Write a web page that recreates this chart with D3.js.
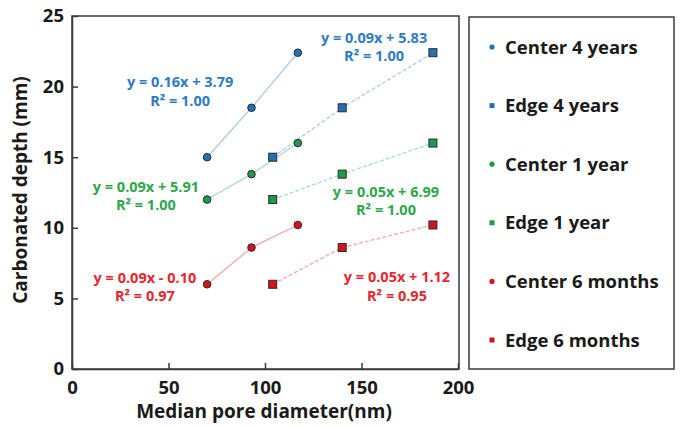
<!DOCTYPE html>
<html>
<head>
<meta charset="utf-8">
<script src="https://cdn.jsdelivr.net/npm/d3@7"></script>
<style>
  html, body { margin: 0; padding: 0; background: #fff; }
  svg { display: block; font-family: "Open Sans", Lato, sans-serif; font-weight: bold; }
</style>
</head>
<body>
<svg id="chart" width="686" height="427"></svg>
<script>
// Median pore diameter (nm) measured at the centre and at the edge of the samples
const xCenter = [70, 93, 117];
const xEdge = [104, 140, 187];

// Carbonated depth (mm) for each exposure time
const center4Years = [15.0, 18.5, 22.4];
const edge4Years = [15.0, 18.5, 22.4];
const center1Year = [12.0, 13.8, 16.0];
const edge1Year = [12.0, 13.8, 16.0];
const center6Months = [6.0, 8.6, 10.2];
const edge6Months = [6.0, 8.6, 10.2];

const seriesNames = ["Center 4 years", "Edge 4 years", "Center 1 year", "Edge 1 year", "Center 6 months", "Edge 6 months"];

// Trendline equations and fit quality
const equations = ["y = 0.16x + 3.79", "y = 0.09x + 5.83", "y = 0.09x + 5.91", "y = 0.05x + 6.99", "y = 0.09x - 0.10", "y = 0.05x + 1.12"];
const rSquared = ["1.00", "1.00", "1.00", "1.00", "0.97", "0.95"];

const xTicks = [0, 50, 100, 150, 200];
const yTicks = [0, 5, 10, 15, 20, 25];

const palette = {
  blue:  { mark: "#2270b8", line: "#a9cde8", text: "#2f7bc2" },
  green: { mark: "#1f9a48", line: "#a7dcc4", text: "#2ea64c" },
  red:   { mark: "#d4121c", line: "#f3a7aa", text: "#e8262c" }
};

const series = [
  { name: seriesNames[0], xs: xCenter, ys: center4Years, shape: "circle", col: palette.blue },
  { name: seriesNames[1], xs: xEdge,   ys: edge4Years,   shape: "square", col: palette.blue },
  { name: seriesNames[2], xs: xCenter, ys: center1Year,  shape: "circle", col: palette.green },
  { name: seriesNames[3], xs: xEdge,   ys: edge1Year,    shape: "square", col: palette.green },
  { name: seriesNames[4], xs: xCenter, ys: center6Months, shape: "circle", col: palette.red },
  { name: seriesNames[5], xs: xEdge,   ys: edge6Months,  shape: "square", col: palette.red }
];

// Where each trendline label sits, in data units (centre of the equation line)
const labelAt = [[56, 20.3], [156.5, 23.45], [38.3, 12.9], [162.7, 12.55], [37.8, 6.45], [168.4, 6.5]];

const svg = d3.select("#chart");
const plot = { left: 72, right: 458, top: 16, bottom: 369 };

const x = d3.scaleLinear().domain([0, 200]).range([plot.left, plot.right]);
const y = d3.scaleLinear().domain([0, 25]).range([plot.bottom, plot.top]);

// Plot frame
svg.append("rect")
  .attr("x", plot.left).attr("y", plot.top)
  .attr("width", plot.right - plot.left + 1).attr("height", plot.bottom - plot.top)
  .attr("fill", "none").attr("stroke", "#3a3a3a").attr("stroke-width", 1.5);

// Axes with inward ticks
const xAxis = svg.append("g").attr("transform", `translate(0,${plot.bottom})`)
  .call(d3.axisBottom(x).tickValues(xTicks).tickSizeInner(-6).tickSizeOuter(0).tickPadding(12));
const yAxis = svg.append("g").attr("transform", `translate(${plot.left},0)`)
  .call(d3.axisLeft(y).tickValues(yTicks).tickSizeInner(-6).tickSizeOuter(0).tickPadding(8));

[xAxis, yAxis].forEach(a => {
  a.select(".domain").attr("stroke", "#3a3a3a").attr("stroke-width", 1.5);
  a.selectAll(".tick line").attr("stroke", "#3a3a3a").attr("stroke-width", 1.5);
  a.selectAll(".tick text")
    .attr("fill", "#1a1a1a")
    .style("font-family", "'Open Sans', Lato, sans-serif")
    .style("font-weight", "bold")
    .style("font-size", "18.5px");
});

// Axis titles
svg.append("text")
  .attr("x", 264).attr("y", 418)
  .attr("text-anchor", "middle")
  .attr("fill", "#1a1a1a").style("font-size", "19px")
  .text("Median pore diameter(nm)");

svg.append("text")
  .attr("transform", "translate(27,190) rotate(-90)")
  .attr("text-anchor", "middle")
  .attr("fill", "#1a1a1a").style("font-size", "19px")
  .text("Carbonated depth (mm)");

// Connecting lines: solid for centre, dashed for edge
const line = d3.line().x(d => x(d[0])).y(d => y(d[1]));
series.forEach(s => {
  const pts = s.xs.map((v, i) => [v, s.ys[i]]);
  svg.append("path")
    .attr("d", line(pts))
    .attr("fill", "none")
    .attr("stroke", s.col.line)
    .attr("stroke-width", 1.3)
    .attr("stroke-dasharray", s.shape === "square" ? "4,2" : null);
});

// Markers
series.forEach(s => {
  const pts = s.xs.map((v, i) => [v, s.ys[i]]);
  const g = svg.append("g");
  if (s.shape === "circle") {
    g.selectAll("circle").data(pts).join("circle")
      .attr("cx", d => x(d[0])).attr("cy", d => y(d[1])).attr("r", 3.8)
      .attr("fill", s.col.mark).attr("stroke", "#2a2a2a").attr("stroke-width", 1);
  } else {
    g.selectAll("rect").data(pts).join("rect")
      .attr("x", d => x(d[0]) - 4).attr("y", d => y(d[1]) - 4)
      .attr("width", 8).attr("height", 8)
      .attr("fill", s.col.mark).attr("stroke", "#2a2a2a").attr("stroke-width", 1);
  }
});

// Trendline labels
series.forEach((s, i) => {
  const cx = x(labelAt[i][0]), cy = y(labelAt[i][1]);
  const t = svg.append("text")
    .attr("text-anchor", "middle")
    .attr("fill", s.col.text)
    .style("font-size", "14.5px");
  t.append("tspan").attr("x", cx).attr("y", cy + 5).text(equations[i]);
  t.append("tspan").attr("x", cx).attr("y", cy + 23.5).text("R\u00B2 = " + rSquared[i]);
});

// Legend
const legend = { left: 469, top: 17, right: 674, bottom: 369 };
svg.append("rect")
  .attr("x", legend.left).attr("y", legend.top)
  .attr("width", legend.right - legend.left).attr("height", legend.bottom - legend.top)
  .attr("fill", "#fff").attr("stroke", "#3a3a3a").attr("stroke-width", 1.5);

const rowY = d3.scalePoint().domain(seriesNames).range([47, 340]);
series.forEach(s => {
  const cy = rowY(s.name);
  if (s.shape === "circle") {
    svg.append("circle").attr("cx", 492).attr("cy", cy).attr("r", 2.6).attr("fill", s.col.mark);
  } else {
    svg.append("rect").attr("x", 489.5).attr("y", cy - 2.5).attr("width", 5).attr("height", 5).attr("fill", s.col.mark);
  }
  svg.append("text")
    .attr("x", 505).attr("y", cy + 6.5)
    .attr("fill", "#1a1a1a").style("font-size", "18.5px")
    .text(s.name);
});
</script>
</body>
</html>
